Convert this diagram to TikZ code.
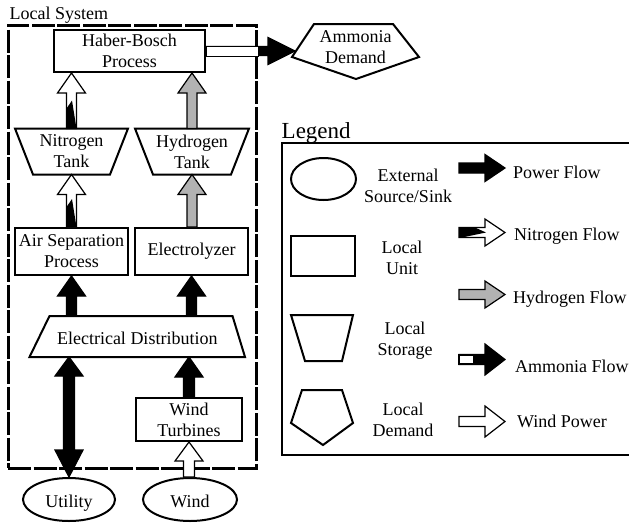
\documentclass[tikz,border=0pt]{standalone}
\usepackage{fontspec}
\setmainfont{Liberation Serif}
\usetikzlibrary{calc,shapes.geometric}
\tikzset{
  bshaft/.store in=\bshw, bhead/.store in=\bhw, bhlen/.store in=\bhl, bhlenb/.store in=\bhlb,
  bshaft=5pt, bhead=14pt, bhlen=20pt, bhlenb=20pt,
  blk/.style={to path={
    ($(\tikztostart)!\bshw!90:(\tikztotarget)$)
    -- ($($(\tikztotarget)!\bhl!(\tikztostart)$)!\bshw!90:(\tikztotarget)$)
    -- ($($(\tikztotarget)!\bhl!(\tikztostart)$)!\bhw!90:(\tikztotarget)$)
    -- (\tikztotarget)
    -- ($($(\tikztotarget)!\bhl!(\tikztostart)$)!\bhw!-90:(\tikztotarget)$)
    -- ($($(\tikztotarget)!\bhl!(\tikztostart)$)!\bshw!-90:(\tikztotarget)$)
    -- ($(\tikztostart)!\bshw!-90:(\tikztotarget)$)
    -- cycle}},
  blkboth/.style={to path={
    (\tikztostart)
    -- ($($(\tikztostart)!\bhlb!(\tikztotarget)$)!\bhw!90:(\tikztotarget)$)
    -- ($($(\tikztostart)!\bhlb!(\tikztotarget)$)!\bshw!90:(\tikztotarget)$)
    -- ($($(\tikztotarget)!\bhl!(\tikztostart)$)!\bshw!90:(\tikztotarget)$)
    -- ($($(\tikztotarget)!\bhl!(\tikztostart)$)!\bhw!90:(\tikztotarget)$)
    -- (\tikztotarget)
    -- ($($(\tikztotarget)!\bhl!(\tikztostart)$)!\bhw!-90:(\tikztotarget)$)
    -- ($($(\tikztotarget)!\bhl!(\tikztostart)$)!\bshw!-90:(\tikztotarget)$)
    -- ($($(\tikztostart)!\bhlb!(\tikztotarget)$)!\bshw!-90:(\tikztotarget)$)
    -- ($($(\tikztostart)!\bhlb!(\tikztotarget)$)!\bhw!-90:(\tikztotarget)$)
    -- cycle}},
  box/.style={draw, line width=2pt, inner sep=0pt, align=center},
  ghost/.style={inner sep=0pt, outer sep=0pt, align=center},
  shapeline/.style={line width=2pt, line join=miter},
  flow/.style={line width=1.2pt, line join=miter},
  pflow/.style={flow, fill=black},
  nflow/.style={flow, fill=white},
  hflow/.style={flow, fill=black!30},
  ext/.style={draw, ellipse, line width=2pt, inner sep=0pt},
}
\begin{document}
\begin{tikzpicture}[x=1pt,y=-1pt,font=\fontsize{18}{21}\selectfont]
\useasboundingbox (0,0) rectangle (629,523);

% frame
\node[anchor=base west, inner sep=0pt] (lslabel) at (9.5,19.5) {Local System};
\node[draw, line width=3pt, dash pattern=on 23pt off 2.5pt, inner sep=0pt, outer sep=0pt,
      minimum width=248pt, minimum height=443pt, anchor=north west] (local) at (8,25) {};

% units
\node[box, minimum width=151pt, minimum height=42pt] (hb) at (129.5,51) {Haber-Bosch\\Process};
\node[ghost, minimum width=113pt, minimum height=46pt] (ntank) at (71.5,151.5) {Nitrogen\\Tank};
\draw[shapeline] (ntank.north west) -- (ntank.north east) -- ($(ntank.south east)+(-18,0)$) -- ($(ntank.south west)+(18,0)$) -- cycle;
\node[ghost, minimum width=114pt, minimum height=46pt] (htank) at (192,151.5) {Hydrogen\\Tank};
\draw[shapeline] (htank.north west) -- (htank.north east) -- ($(htank.south east)+(-18,0)$) -- ($(htank.south west)+(18,0)$) -- cycle;
\node[box, minimum width=113pt, minimum height=47pt] (asp) at (71.5,251.5) {Air Separation\\Process};
\node[box, minimum width=113pt, minimum height=47pt] (elz) at (191.5,251.5) {Electrolyzer};
\node[ghost, minimum width=215.5pt, minimum height=41pt, text height=16pt] (edist) at (137.25,336.5) {Electrical Distribution};
\draw[shapeline] (edist.south west) -- (edist.south east) -- ($(edist.north east)+(-12.5,0)$) -- ($(edist.north west)+(20,0)$) -- cycle;
\node[box, minimum width=106pt, minimum height=43pt] (wt) at (189,419.5) {Wind\\Turbines};
\node[ext, minimum width=92pt, minimum height=43pt, text height=15pt, text depth=0pt] (utility) at (69,499.5) {Utility};
\node[ext, minimum width=94pt, minimum height=43pt, text height=15pt, text depth=0pt] (wind) at (190,499.5) {Wind};

% ammonia demand
\node[ghost] (amd) at (355.5,47.5) {Ammonia\\Demand};
\draw[shapeline] (314,24) -- (393,24) -- (419,57) -- (356,79) -- (292,57) -- cycle;
\coordinate (ammtip) at (295,51);

% flows
\draw[pflow, bshaft=4.5pt, bhead=13.5pt, bhlen=27pt] (hb.east) to[blk] (ammtip);
\draw[line width=1pt, fill=white] ($(hb.east)+(0,-5)$) rectangle ($(hb.east)+(52,5)$);

\draw[nflow] (ntank.north) to[blk] (ntank.north |- hb.south);
\fill ($(ntank.north)+(-5,0)$) -- ($(ntank.north)+(5,0)$) -- ($(ntank.north)+(0.5,-28)$) -- ($(ntank.north)+(-5,-20)$) -- cycle;
\draw[nflow] (asp.north) to[blk] (ntank.south);
\fill ($(asp.north)+(-5,0)$) -- ($(asp.north)+(5,0)$) -- ($(asp.north)+(0.5,-28)$) -- ($(asp.north)+(-5,-20)$) -- cycle;

\draw[hflow] (htank.north) to[blk] (htank.north |- hb.south);
\draw[hflow] (elz.north -| htank.south) to[blk] (htank.south);

\draw[pflow] (asp.south |- edist.north) to[blk] (asp.south);
\draw[pflow] (elz.south |- edist.north) to[blk] (elz.south);
\draw[pflow, bshaft=5.5pt, bhlen=19pt, bhlenb=27pt] (utility.north) to[blkboth] (utility.north |- edist.south);
\draw[pflow, bshaft=5.5pt] (wt.north) to[blk] (wt.north |- edist.south);
\draw[nflow, bshaft=5.5pt, bhlen=19pt] (wind.north -| wt.south) to[blk] (wt.south);

% legend
\node[anchor=base west, inner sep=0pt, font=\fontsize{23}{27}\selectfont] (legtitle) at (281.5,138) {Legend};
\draw[line width=1.2pt] (282,143) rectangle (660,455);

\node[ext, minimum width=65pt, minimum height=42pt] (lext) at (323.5,179) {};
\node[ghost] (lextt) at (408,185.5) {External\\Source/Sink};
\node[box, minimum width=64pt, minimum height=40pt] (lunit) at (323,256) {};
\node[ghost] (lunitt) at (402,257.5) {Local\\Unit};
\node[ghost, minimum width=62pt, minimum height=46pt] (lsto) at (322,338) {};
\draw[shapeline] (lsto.north west) -- (lsto.north east) -- ($(lsto.south east)+(-11,0)$) -- ($(lsto.south west)+(14,0)$) -- cycle;
\node[ghost] (lstot) at (405,341) {Local\\Storage};
\draw[shapeline] (302,390) -- (342,390) -- (353,423) -- (323,445) -- (291,423) -- cycle;
\node[ghost] (ldemt) at (403,420) {Local\\Demand};

\coordinate (lp1) at (459,168); \coordinate (lp2) at (505,168);
\coordinate (ln1) at (459,232.5); \coordinate (ln2) at (505,232.5);
\coordinate (lh1) at (459,294.5); \coordinate (lh2) at (505,294.5);
\coordinate (la1) at (459,359.5); \coordinate (la2) at (505,359.5);
\coordinate (lw1) at (459,421.5); \coordinate (lw2) at (505,421.5);

\draw[pflow, bhead=13.5pt] (lp1) to[blk] (lp2);
\draw[nflow, bhead=13.5pt] (ln1) to[blk] (ln2);
\fill ($(ln1)+(0,-5)$) -- ($(ln1)+(16,-5)$) -- ($(ln1)+(27,0)$) -- ($(ln1)+(3,5)$) -- ($(ln1)+(0,5)$) -- cycle;
\draw[hflow, bhead=13.5pt] (lh1) to[blk] (lh2);
\draw[pflow, bhead=15.5pt] (la1) to[blk] (la2);
\draw[flow, fill=white] ($(la1)+(0,-4.5)$) rectangle ($(la1)+(15,4.5)$);
\draw[nflow, bhead=15.5pt] (lw1) to[blk] (lw2);

\node[anchor=base west, inner sep=0pt] (lpt) at (513,178) {Power Flow};
\node[anchor=base west, inner sep=0pt] (lnt) at (514,240) {Nitrogen Flow};
\node[anchor=base west, inner sep=0pt] (lht) at (513,303) {Hydrogen Flow};
\node[anchor=base west, inner sep=0pt] (lat) at (515,372) {Ammonia Flow};
\node[anchor=base west, inner sep=0pt] (lwt) at (517,427) {Wind Power};
\end{tikzpicture}
\end{document}
